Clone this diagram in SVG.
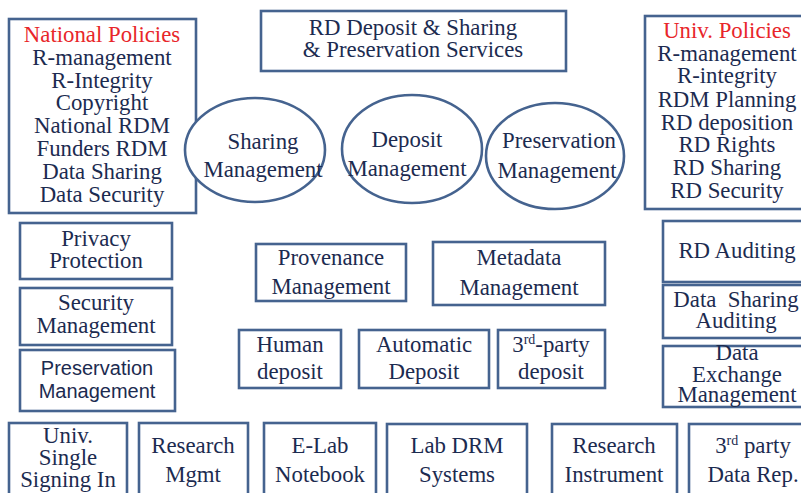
<svg xmlns="http://www.w3.org/2000/svg" width="801" height="493" viewBox="0 0 801 493">
  <style>
    .box { fill: #ffffff; stroke: #45638f; stroke-width: 2.6; }
    .t { font-family: "Liberation Serif", "Times New Roman", serif; font-size: 22.8px; fill: #1c2b50; text-anchor: middle; }
    .s { font-family: "Liberation Sans", Arial, sans-serif; font-size: 20px; fill: #1c2b50; text-anchor: middle; }
    .red { fill: #e8262a; }
    .sup { font-size: 14px; }
  </style>
  <rect width="801" height="493" fill="#ffffff"/>

  <!-- policy columns -->
  <g id="national-policies">
    <rect class="box" x="9" y="19" width="187" height="194"/>
    <text class="t" x="102" y="42"><tspan class="red">National Policies</tspan></text>
    <text class="t" x="102" y="65">R-management</text>
    <text class="t" x="102" y="88">R-Integrity</text>
    <text class="t" x="102" y="110">Copyright</text>
    <text class="t" x="102" y="133">National RDM</text>
    <text class="t" x="102" y="156">Funders RDM</text>
    <text class="t" x="102" y="179">Data Sharing</text>
    <text class="t" x="102" y="202">Data Security</text>
  </g>
  <g id="univ-policies">
    <rect class="box" x="645" y="16" width="160" height="193"/>
    <text class="t" x="727" y="38"><tspan class="red">Univ. Policies</tspan></text>
    <text class="t" x="727" y="61">R-management</text>
    <text class="t" x="727" y="83">R-integrity</text>
    <text class="t" x="727" y="107">RDM Planning</text>
    <text class="t" x="727" y="130">RD deposition</text>
    <text class="t" x="727" y="152">RD Rights</text>
    <text class="t" x="727" y="175">RD Sharing</text>
    <text class="t" x="727" y="198">RD Security</text>
  </g>

  <!-- services header -->
  <g id="rd-services">
    <rect class="box" x="261" y="11" width="305" height="60"/>
    <text class="t" x="413" y="35">RD Deposit &amp; Sharing</text>
    <text class="t" x="413" y="57">&amp; Preservation Services</text>
  </g>

  <!-- management ellipses -->
  <g id="sharing-management">
    <ellipse class="box" cx="255" cy="150" rx="70" ry="52"/>
    <text class="t" x="263" y="149">Sharing</text>
    <text class="t" x="263" y="177">Management</text>
  </g>
  <g id="deposit-management">
    <ellipse class="box" cx="412" cy="149" rx="70" ry="54"/>
    <text class="t" x="407" y="147">Deposit</text>
    <text class="t" x="407" y="176">Management</text>
  </g>
  <g id="preservation-management-ellipse">
    <ellipse class="box" cx="555" cy="156" rx="69" ry="53"/>
    <text class="t" x="559" y="148">Preservation</text>
    <text class="t" x="557" y="178">Management</text>
  </g>

  <!-- left column -->
  <g id="privacy-protection">
    <rect class="box" x="20" y="223" width="152" height="56"/>
    <text class="t" x="96" y="246">Privacy</text>
    <text class="t" x="96" y="268">Protection</text>
  </g>
  <g id="security-management">
    <rect class="box" x="20" y="288" width="152" height="57"/>
    <text class="t" x="96" y="310">Security</text>
    <text class="t" x="96" y="333">Management</text>
  </g>
  <g id="preservation-management">
    <rect class="box" x="20" y="350" width="155" height="61"/>
    <text class="s" x="97" y="375">Preservation</text>
    <text class="s" x="97" y="398">Management</text>
  </g>

  <!-- centre blocks -->
  <g id="provenance-management">
    <rect class="box" x="256" y="244" width="150" height="57"/>
    <text class="t" x="331" y="265">Provenance</text>
    <text class="t" x="331" y="294">Management</text>
  </g>
  <g id="metadata-management">
    <rect class="box" x="433" y="242" width="172" height="63"/>
    <text class="t" x="519" y="265">Metadata</text>
    <text class="t" x="519" y="295">Management</text>
  </g>
  <g id="human-deposit">
    <rect class="box" x="239" y="330" width="102" height="58"/>
    <text class="t" x="290" y="352">Human</text>
    <text class="t" x="290" y="379">deposit</text>
  </g>
  <g id="automatic-deposit">
    <rect class="box" x="359" y="330" width="130" height="58"/>
    <text class="t" x="424" y="352">Automatic</text>
    <text class="t" x="424" y="379">Deposit</text>
  </g>
  <g id="third-party-deposit">
    <rect class="box" x="498" y="330" width="107" height="58"/>
    <text class="t" x="551" y="352">3<tspan class="sup" dy="-8">rd</tspan><tspan dy="8">-party</tspan></text>
    <text class="t" x="551" y="379">deposit</text>
  </g>

  <!-- right column -->
  <g id="rd-auditing">
    <rect class="box" x="663" y="221" width="145" height="61"/>
    <text class="t" x="737" y="258">RD Auditing</text>
  </g>
  <g id="data-sharing-auditing">
    <rect class="box" x="663" y="285" width="145" height="53"/>
    <text class="t" x="736" y="307" xml:space="preserve">Data  Sharing</text>
    <text class="t" x="736" y="328">Auditing</text>
  </g>
  <g id="data-exchange-management">
    <rect class="box" x="663" y="346" width="145" height="61"/>
    <text class="t" x="737" y="360">Data</text>
    <text class="t" x="737" y="382">Exchange</text>
    <text class="t" x="737" y="402">Management</text>
  </g>

  <!-- bottom row: systems -->
  <g id="single-sign-in">
    <rect class="box" x="9" y="423" width="118" height="80"/>
    <text class="t" x="68" y="443">Univ.</text>
    <text class="t" x="68" y="465">Single</text>
    <text class="t" x="68" y="487">Signing In</text>
  </g>
  <g id="research-mgmt">
    <rect class="box" x="139" y="423" width="109" height="80"/>
    <text class="t" x="193" y="453">Research</text>
    <text class="t" x="193" y="482">Mgmt</text>
  </g>
  <g id="e-lab-notebook">
    <rect class="box" x="264" y="423" width="112" height="80"/>
    <text class="t" x="320" y="453">E-Lab</text>
    <text class="t" x="320" y="482">Notebook</text>
  </g>
  <g id="lab-drm-systems">
    <rect class="box" x="387" y="424" width="140" height="80"/>
    <text class="t" x="457" y="453">Lab DRM</text>
    <text class="t" x="457" y="482">Systems</text>
  </g>
  <g id="research-instrument">
    <rect class="box" x="552" y="424" width="125" height="80"/>
    <text class="t" x="614" y="453">Research</text>
    <text class="t" x="614" y="482">Instrument</text>
  </g>
  <g id="third-party-data-rep">
    <rect class="box" x="689" y="424" width="128" height="80"/>
    <text class="t" x="753" y="453">3<tspan class="sup" dy="-8">rd</tspan><tspan dy="8"> party</tspan></text>
    <text class="t" x="753" y="482">Data Rep.</text>
  </g>
</svg>
